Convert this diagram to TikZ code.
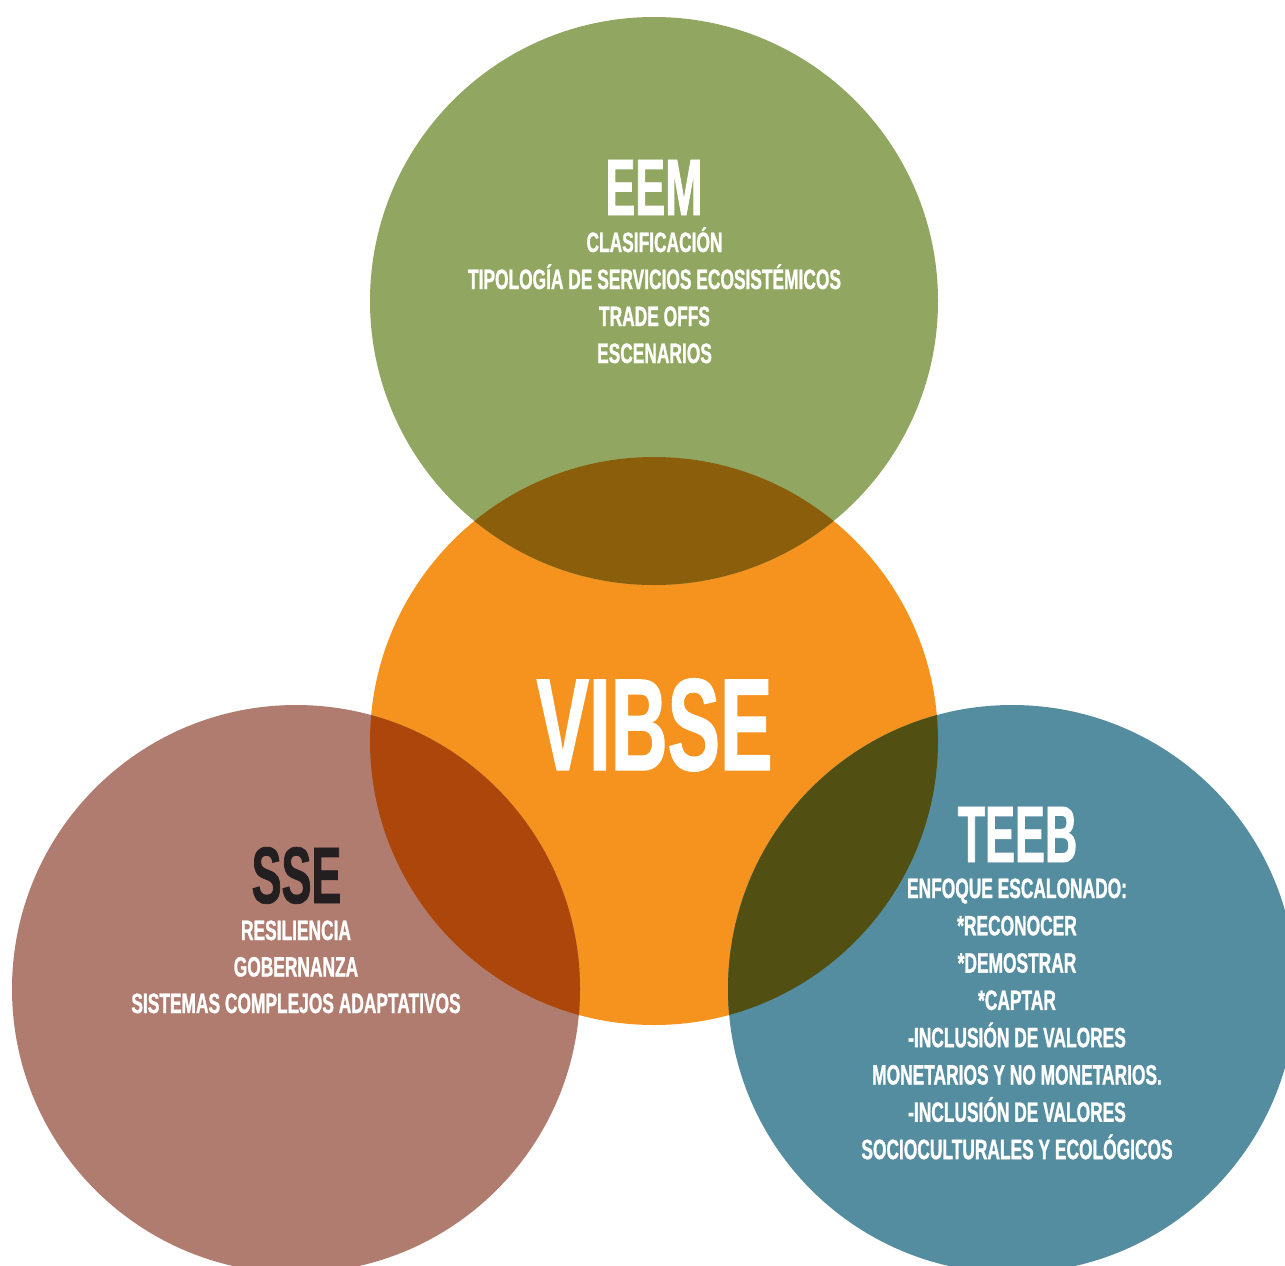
\documentclass[tikz,border=0pt]{standalone}
\usepackage{fontspec}
\newfontfamily\headface[FakeStretch=0.56,FakeBold=1]{Liberation Sans}
\newfontfamily\bigface[FakeStretch=0.6,FakeBold=1]{Liberation Sans}
\newfontfamily\itemface[FakeStretch=0.62,FakeBold=1]{Liberation Sans}

\definecolor{eemgreen}{RGB}{145,167,97}
\definecolor{vibseorange}{RGB}{246,146,30}
\definecolor{ssebrown}{RGB}{176,124,111}
\definecolor{teebblue}{RGB}{85,141,160}
\definecolor{eemvibse}{RGB}{139,94,12}
\definecolor{ssevibse}{RGB}{172,70,11}
\definecolor{teebvibse}{RGB}{82,79,18}
\definecolor{ssedark}{RGB}{35,31,32}

\begin{document}
\begin{tikzpicture}[x=1pt, y=-1pt,
  title/.style = {font=\headface\bfseries\fontsize{80}{80}\selectfont, text=white, inner sep=0pt, anchor=base},
  item/.style = {font=\itemface\bfseries\fontsize{28}{28}\selectfont, text=white, inner sep=0pt, anchor=base}]

\clip (0,0) rectangle (1285,1266);

% Centres
\coordinate (eem) at (654,301);
\coordinate (vibse) at (654,741);
\coordinate (sse) at (296,989);
\coordinate (teeb) at (1012,989);

% Circles
\fill[vibseorange] (vibse) circle[radius=284];
\fill[eemgreen] (eem) circle[radius=284];
\fill[ssebrown] (sse) circle[radius=284];
\fill[teebblue] (teeb) circle[radius=284];

% Overlaps
\begin{scope}
  \clip (vibse) circle[radius=284];
  \fill[eemvibse] (eem) circle[radius=284];
  \fill[ssevibse] (sse) circle[radius=284];
  \fill[teebvibse] (teeb) circle[radius=284];
\end{scope}

% Titles
\node[title] (eem-title) at (654,215) {EEM};
\node[title, font=\bigface\bfseries\fontsize{131}{131}\selectfont] (vibse-title) at (654.5,770) {VIBSE};
\node[title, text=ssedark] (sse-title) at (296.5,903) {SSE};
\node[title] (teeb-title) at (1017.5,862) {TEEB};

% Lists
\foreach \t [count=\i from 0] in {CLASIFICACIÓN, TIPOLOGÍA DE SERVICIOS ECOSISTÉMICOS, TRADE OFFS, ESCENARIOS} {
  \node[item] (eem-\i) at (654.5, 252+37*\i) {\t};
}

\foreach \t [count=\i from 0] in {RESILIENCIA, GOBERNANZA, SISTEMAS COMPLEJOS ADAPTATIVOS} {
  \node[item] (sse-\i) at (296, 940+36.5*\i) {\t};
}

\foreach \t [count=\i from 0] in {ENFOQUE ESCALONADO:, *RECONOCER, *DEMOSTRAR, *CAPTAR, -INCLUSIÓN DE VALORES, MONETARIOS Y NO MONETARIOS., -INCLUSIÓN DE VALORES, SOCIOCULTURALES Y ECOLÓGICOS} {
  \node[item] (teeb-\i) at (1017, 898+37.3*\i) {\t};
}

\end{tikzpicture}
\end{document}
